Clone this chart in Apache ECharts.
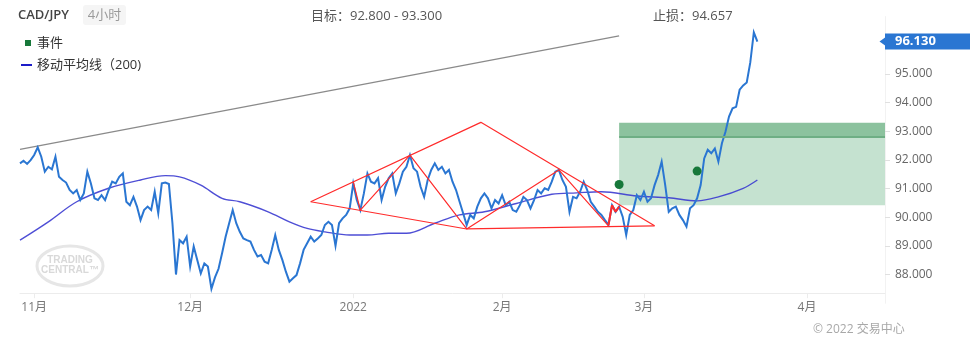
<!DOCTYPE html>
<html>
<head>
<meta charset="utf-8">
<script src="https://cdn.jsdelivr.net/npm/echarts@6/dist/echarts.min.js"></script>
<style>
html,body{margin:0;padding:0;background:#fff}
#chart{width:970px;height:345px}
</style>
</head>
<body>
<div id="chart"></div>
<script>
// ---- data ----
const symbolName = 'CAD/JPY';
const timeframe = '4小时';
const axisStart = '2021-10-28';
const axisEnd = '2022-04-18 00:00';
const sessions = ['00:00', '12:00'];

// half-day closes from 2021-10-28 onward
const price = [
  91.88, 91.97, 91.86, 91.99, 92.17, 92.44, 92.11, 91.59, 91.76, 91.67,
  92.11, 91.41, 91.30, 91.21, 90.95, 90.83, 90.95, 90.60, 90.83, 91.59,
  91.18, 90.66, 90.60, 90.77, 90.60, 90.95, 91.24, 91.18, 91.41, 91.53,
  90.54, 90.42, 90.71, 90.37, 89.90, 90.25, 90.37, 90.25, 90.89, 90.14,
  91.18, 91.21, 91.16, 89.79, 88.00, 89.20, 89.09, 89.32, 88.28, 88.98,
  88.51, 88.04, 88.39, 88.28, 87.50, 87.90, 88.20, 88.74, 89.32, 89.79,
  90.25, 89.79, 89.49, 89.26, 89.20, 89.15, 88.86, 88.63, 88.68, 88.45,
  88.39, 88.86, 89.38, 88.86, 88.51, 88.10, 87.75, 87.87, 87.98, 88.39,
  88.86, 89.09, 89.32, 89.15, 89.26, 89.38, 89.73, 89.84, 89.73, 89.00,
  89.79, 89.96, 90.08, 90.31, 91.18, 90.60, 90.25, 90.83, 91.53, 91.24,
  91.18, 91.36, 90.60, 91.06, 91.36, 91.53, 90.83, 91.18, 91.59, 91.76,
  92.17, 91.71, 91.59, 91.06, 90.71, 91.30, 91.65, 91.88, 91.65, 91.76,
  91.53, 91.65, 91.24, 90.95, 90.54, 90.14, 89.73, 90.08, 89.96, 90.37,
  90.66, 90.83, 90.66, 90.31, 90.60, 90.48, 90.77, 90.42, 90.54, 90.25,
  90.19, 90.42, 90.71, 90.60, 90.31, 90.60, 90.95, 90.83, 91.01, 90.95,
  91.24, 91.59, 91.65, 91.30, 91.06, 90.19, 90.71, 90.66, 90.89, 91.24,
  90.95, 90.54, 90.37, 90.19, 90.08, 89.90, 89.73, 90.42, 90.19, 90.37,
  90.02, 89.38, 90.08, 90.25, 90.77, 90.60, 90.89, 90.54, 90.66, 91.12,
  91.47, 91.94, 91.12, 90.19, 90.31, 90.37, 90.08, 89.90, 89.67, 90.31,
  90.42, 90.66, 91.12, 92.05, 92.35, 92.23, 92.40, 91.94, 92.58, 92.98,
  93.51, 93.80, 93.85, 94.45, 94.60, 94.70, 95.40, 96.45, 96.13
];
// bars drawn red at the pattern break: [from index, to index]
const signalBars = [166, 169];

// 200-period moving average, [bar index, value]
const ma200 = [
  [0, 89.20], [8, 89.84], [16, 90.54], [25, 91.01], [34, 91.30], [41, 91.45],
  [45, 91.41], [51, 91.12], [57, 90.66], [62, 90.54], [70, 90.19], [76, 89.84],
  [81, 89.61], [86, 89.49], [93, 89.38], [98, 89.38], [104, 89.44], [109, 89.44],
  [117, 89.79], [124, 90.08], [131, 90.19], [140, 90.48], [150, 90.80], [157, 90.85],
  [164, 90.89], [174, 90.74], [183, 90.68], [191, 90.57], [197, 90.71], [204, 91.01],
  [208, 91.30]
];

// long-term resistance line
const trendLine = [[0, 92.37], [169, 96.33]];

// chart pattern outline, [bar index, price]
const patternUpper = [[82, 90.54], [130, 93.31], [179, 89.70]];
const patternLower = [[82, 90.54], [126, 89.59], [179, 89.70]];
const patternSwings = [[94, 91.24], [96, 90.25], [110, 92.17], [126, 89.59], [152, 91.65], [166, 89.70]];

// events
const events = [[169, 91.14], [191, 91.61]];

// trade plan
const zoneStart = 169;
const entryLevel = 90.42;
const target = [92.8, 93.3];
const stopLoss = 94.657;

// ---- axis categories (weekday half-day sessions) ----
const categories = [];
const monthStarts = new Set();
(function () {
  const d = new Date(axisStart + 'T00:00:00Z');
  let prevMonth = d.getUTCMonth();
  let done = false;
  while (!done) {
    const wd = d.getUTCDay();
    if (wd !== 0 && wd !== 6) {
      const ds = d.toISOString().slice(0, 10);
      if (d.getUTCMonth() !== prevMonth) {
        monthStarts.add(categories.length);
        prevMonth = d.getUTCMonth();
      }
      for (const s of sessions) {
        const c = ds + ' ' + s;
        categories.push(c);
        if (c === axisEnd) { done = true; break; }
      }
    }
    d.setUTCDate(d.getUTCDate() + 1);
  }
})();
const cat = i => categories[i];
const lastCat = categories[categories.length - 1];
const pairs = arr => arr.map(p => [cat(p[0]), p[1]]);
const lastPrice = price[price.length - 1];

const FONT = '"Open Sans", "Noto Sans CJK SC", sans-serif';
const BLUE = '#2a76d2';
const RED = '#ff2b2b';

const chart = echarts.init(document.getElementById('chart'), null, { renderer: 'canvas' });

chart.setOption({
  animation: false,
  backgroundColor: '#fff',
  textStyle: { fontFamily: FONT },
  grid: { left: 20, right: 85, top: 16.6, bottom: 41.8 },
  xAxis: {
    type: 'category',
    data: categories,
    boundaryGap: false,
    offset: -10,
    axisLine: { lineStyle: { color: '#ececec' } },
    axisTick: {
      interval: (i) => monthStarts.has(i),
      length: 5,
      lineStyle: { color: '#ececec' }
    },
    axisLabel: {
      interval: (i) => monthStarts.has(i),
      formatter: v => {
        const m = +v.slice(5, 7);
        return m === 1 ? v.slice(0, 4) : m + '月';
      },
      color: '#777',
      fontSize: 12,
      margin: 8,
      fontFamily: FONT
    },
    splitLine: { show: false }
  },
  yAxis: {
    type: 'value',
    position: 'right',
    min: 87,
    max: 97,
    interval: 1,
    axisLine: { show: true, lineStyle: { color: '#f2f2f2' } },
    axisTick: { show: true, length: 5, lineStyle: { color: '#e0e0e0' } },
    axisLabel: {
      formatter: v => v.toFixed(3),
      color: '#666',
      fontSize: 12,
      margin: 10,
      showMinLabel: false,
      showMaxLabel: false,
      fontFamily: FONT
    },
    splitLine: { show: false }
  },
  series: [
    {
      name: 'trend',
      type: 'line',
      data: pairs(trendLine),
      showSymbol: false,
      z: 1,
      lineStyle: { color: '#8a8a8a', width: 1.2 },
      markArea: {
        silent: true,
        data: [
          [{ xAxis: cat(zoneStart), yAxis: entryLevel, itemStyle: { color: '#c5e2d0' } },
           { xAxis: lastCat, yAxis: target[0] }],
          [{ xAxis: cat(zoneStart), yAxis: target[0], itemStyle: { color: '#8cc29e' } },
           { xAxis: lastCat, yAxis: target[1] }]
        ]
      },
      markLine: {
        silent: true,
        symbol: ['none', 'none'],
        label: { show: false },
        lineStyle: { color: '#6eae84', width: 2, type: 'solid' },
        data: [[{ coord: [cat(zoneStart), target[0]] }, { coord: [lastCat, target[0]] }]]
      }
    },
    {
      name: '移动平均线（200)',
      type: 'line',
      data: pairs(ma200),
      smooth: 0.35,
      showSymbol: false,
      z: 3,
      lineStyle: { color: '#3b3bd0', width: 1.4, opacity: 0.9 }
    },
    {
      name: 'price',
      type: 'line',
      data: price,
      showSymbol: false,
      z: 4,
      lineStyle: { color: BLUE, width: 2, join: 'miter' },
      markPoint: {
        silent: true,
        symbol: 'triangle',
        symbolRotate: 90,
        symbolSize: [10, 7],
        symbolOffset: [-2, 0],
        itemStyle: { color: BLUE },
        label: {
          show: true,
          position: 'right',
          distance: 0,
          offset: [-1.5, 0],
          formatter: () => lastPrice.toFixed(3),
          color: '#fff',
          fontWeight: 'bold',
          fontSize: 13,
          fontFamily: FONT,
          backgroundColor: BLUE,
          padding: [2, 40, 1, 10]
        },
        data: [{ coord: [lastCat, lastPrice] }]
      }
    },
    {
      name: 'signal',
      type: 'line',
      data: price.map((v, i) => (i >= signalBars[0] && i <= signalBars[1]) ? v : '-'),
      showSymbol: false,
      z: 5,
      lineStyle: { color: RED, width: 2 }
    },
    {
      name: 'patternUpper', type: 'line', data: pairs(patternUpper), showSymbol: false, z: 6,
      lineStyle: { color: RED, width: 1.2 }
    },
    {
      name: 'patternLower', type: 'line', data: pairs(patternLower), showSymbol: false, z: 6,
      lineStyle: { color: RED, width: 1.2 }
    },
    {
      name: 'patternSwings', type: 'line', data: pairs(patternSwings), showSymbol: false, z: 6,
      lineStyle: { color: RED, width: 1.2 }
    },
    {
      name: '事件',
      type: 'scatter',
      data: pairs(events),
      symbol: 'circle',
      symbolSize: 9,
      z: 8,
      itemStyle: { color: '#17783a', opacity: 1 }
    }
  ],
  graphic: [
    { type: 'text', left: 18, top: 9, style: { text: symbolName, font: '600 13px ' + FONT, fill: '#444' } },
    { type: 'rect', shape: { x: 83, y: 5, width: 43, height: 20, r: 3 }, style: { fill: '#f5f5f5' } },
    { type: 'text', x: 104.5, y: 15, style: { text: timeframe, font: '13px ' + FONT, fill: '#9a9a9a', align: 'center', verticalAlign: 'middle' } },
    { type: 'text', x: 311, y: 16, style: { text: '目标：' + target[0].toFixed(3) + ' - ' + target[1].toFixed(3), font: '13px ' + FONT, fill: '#555', verticalAlign: 'middle' } },
    { type: 'text', x: 653, y: 16, style: { text: '止损：' + stopLoss.toFixed(3), font: '13px ' + FONT, fill: '#555', verticalAlign: 'middle' } },
    // legend
    { type: 'rect', shape: { x: 25, y: 40, width: 6, height: 6 }, style: { fill: '#17783a' } },
    { type: 'text', x: 37, y: 43, style: { text: '事件', font: '13px ' + FONT, fill: '#333', verticalAlign: 'middle' } },
    { type: 'rect', shape: { x: 21, y: 64, width: 11, height: 2 }, style: { fill: '#1c1cc8' } },
    { type: 'text', x: 37, y: 65, style: { text: '移动平均线（200)', font: '13px ' + FONT, fill: '#333', verticalAlign: 'middle' } },
    // watermark
    { type: 'ellipse', shape: { cx: 70, cy: 266, rx: 33, ry: 20 }, style: { fill: 'none', stroke: '#e6e6e6', lineWidth: 3 }, z: 0 },
    { type: 'text', x: 70, y: 260, style: { text: 'TRADING', font: 'bold 10px "Liberation Sans", Arial, sans-serif', fill: '#d9d9d9', align: 'center', verticalAlign: 'middle' }, z: 0 },
    { type: 'text', x: 70, y: 270, style: { text: 'CENTRAL™', font: 'bold 10px "Liberation Sans", Arial, sans-serif', fill: '#d9d9d9', align: 'center', verticalAlign: 'middle' }, z: 0 },
    // footer
    { type: 'text', x: 813, y: 330, style: { text: '© 2022 交易中心', font: '12px ' + FONT, fill: '#a8a8a8', verticalAlign: 'middle' } }
  ]
});
</script>
</body>
</html>
